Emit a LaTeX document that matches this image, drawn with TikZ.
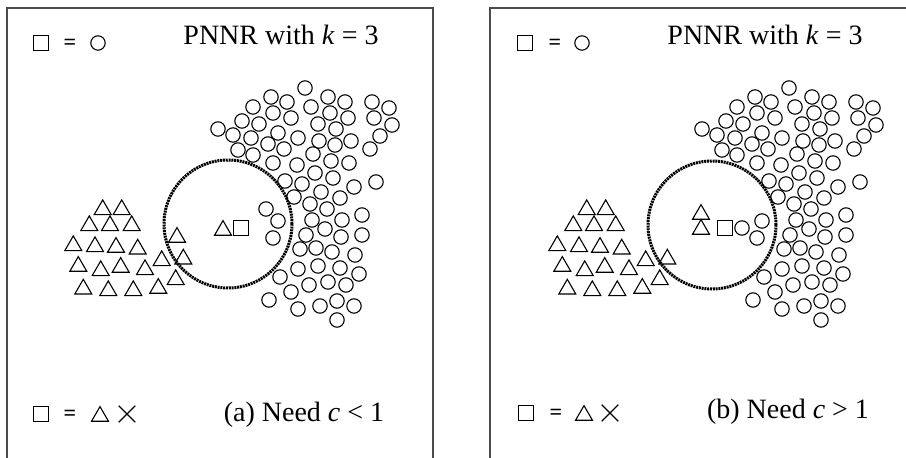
\documentclass[tikz,border=0pt]{standalone}
\usepackage{fontspec}
\setmainfont{Liberation Serif}
\usetikzlibrary{shapes.geometric, shapes.misc}

% point sets shared by both panels (pixel units)
\newcommand{\circlist}{305/88, 271/97, 287/102, 328/97, 345/102, 372/102, 389/108,
  253/107, 273/113, 311/107, 330/113, 242/121, 259/124, 291/118, 318/124, 348/118,
  374/118, 392/125, 218/129, 233/135, 251/138, 278/133, 298/138, 336/129, 380/136,
  268/144, 284/149, 319/141, 335/145, 351/141, 370/149, 238/150, 253/155, 313/154,
  331/161, 349/163, 273/163, 297/165, 315/173, 333/178, 285/181, 302/184, 354/187,
  376/182, 321/192, 340/198, 294/197, 310/204, 327/209, 362/215, 278/221, 312/220,
  342/220, 325/229, 273/238, 306/235, 341/237, 362/235, 300/249, 316/248, 332/252,
  355/255, 280/277, 298/269, 318/266, 340/268, 359/274, 291/292, 309/285, 328/282,
  346/285, 269/300, 298/309, 320/306, 337/301, 354/306, 337/320}
\newcommand{\trilist}{102.7/207.3, 121.7/207.3, 89.3/223.3, 110/223.3, 131.7/223.3,
  73.3/243.3, 95/244.3, 116/245, 137.7/246.7, 78.3/264, 100.7/268.3, 120.7/265,
  145/267.3, 161.7/258.3, 183.3/256.7, 83.3/286.7, 108.3/288.3, 133.3/288.3,
  158.3/286, 175.7/277.3}

\begin{document}
\begin{tikzpicture}[
  x=0.5pt, y=-0.5pt,
  font=\fontsize{14}{16}\selectfont,
  circ/.style={draw, circle, minimum size=7.2pt, inner sep=0pt, line width=0.55pt},
  tri/.style={draw, regular polygon, regular polygon sides=3, minimum size=9.8pt,
    inner sep=0pt, line width=0.55pt, yshift=-1.2pt},
  sqr/.style={draw, rectangle, minimum size=7.4pt, inner sep=0pt, line width=0.55pt},
  crs/.style={draw, cross out, minimum size=7.8pt, inner sep=0pt, line width=0.55pt},
  ball/.style={draw, circle, minimum size=64pt, inner sep=0pt, line width=1.5pt,
    dash pattern=on 1pt off 0.4pt},
  eqsign/.style={font=\fontsize{11}{12}\selectfont\bfseries, inner sep=0pt},
  paneledge/.style={draw=black!70, line width=0.6pt}
  ]

  \useasboundingbox (0,0) rectangle (906,458);

  % panel (a)
  \begin{scope}[name prefix=pa-]
    \draw[paneledge] (7,458) -- (7,8) -- (433,8) -- (433,458);

    \node[sqr] (sqtop) at (41,43) {};
    \node[eqsign] (eqtop) at (70,44) {=};
    \node[circ] (ctop) at (98,43) {};
    \node[anchor=base] (title) at (281,45) {PNNR with \textit{k} = 3};

    \node[ball] (ball) at (228,224) {};
    \foreach \x/\y [count=\i] in \circlist
      \node[circ] (c\i) at (\x,\y) {};
    \foreach \x/\y [count=\i] in \trilist
      \node[tri] (t\i) at (\x,\y) {};
    \node[circ] (cin) at (266,209) {};
    \node[tri] (tedge) at (177,235) {};
    \node[tri] (tq) at (223,228) {};
    \node[sqr] (q) at (241,228) {};

    \node[sqr] (sqbot) at (41,414) {};
    \node[eqsign] (eqbot) at (70,415) {=};
    \node[tri] (tbot) at (100,414) {};
    \node[crs] (xbot) at (127,414) {};
    \node[anchor=base] (cap) at (304,422) {(a) Need \textit{c} < 1};
  \end{scope}

  % panel (b)
  \begin{scope}[name prefix=pb-, shift={(484,0)}]
    \draw[paneledge] (6,458) -- (6,8) -- (422,8);

    \node[sqr] (sqtop) at (41,43) {};
    \node[eqsign] (eqtop) at (71,44) {=};
    \node[circ] (ctop) at (98,43) {};
    \node[anchor=base] (title) at (281,45) {PNNR with \textit{k} = 3};

    \node[ball] (ball) at (228,225) {};
    \foreach \x/\y [count=\i] in \circlist
      \node[circ] (c\i) at (\x,\y) {};
    \foreach \x/\y [count=\i] in \trilist
      \node[tri] (t\i) at (\x,\y) {};
    \node[tri] (tq1) at (217,212) {};
    \node[tri] (tq2) at (217,227) {};
    \node[sqr] (q) at (241,228) {};
    \node[circ] (cq) at (258,228) {};

    \node[sqr] (sqbot) at (42,413) {};
    \node[eqsign] (eqbot) at (72,414) {=};
    \node[tri] (tbot) at (100,413) {};
    \node[crs] (xbot) at (126,413) {};
    \node[anchor=base] (cap) at (304,419) {(b) Need \textit{c} > 1};
  \end{scope}

\end{tikzpicture}
\end{document}
